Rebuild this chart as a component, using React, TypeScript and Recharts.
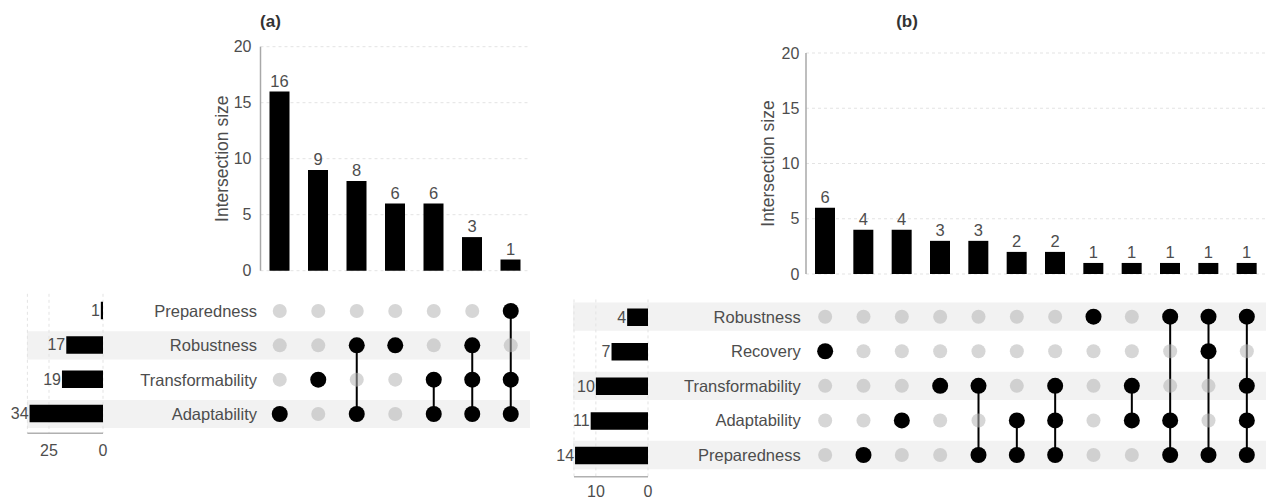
import {
  BarChart,
  Bar,
  XAxis,
  YAxis,
  CartesianGrid,
  LabelList,
  ComposedChart,
  Scatter,
  ReferenceArea,
} from "recharts";

// panel (a)
const setsA = ["Preparedness", "Robustness", "Transformability", "Adaptability"];
const setSizesA = [1, 17, 19, 34];
const sizesA = [16, 9, 8, 6, 6, 3, 1];
const membersA = [
  ["Adaptability"],
  ["Transformability"],
  ["Robustness", "Adaptability"],
  ["Robustness"],
  ["Transformability", "Adaptability"],
  ["Robustness", "Transformability", "Adaptability"],
  ["Preparedness", "Transformability", "Adaptability"],
];

// panel (b)
const setsB = ["Robustness", "Recovery", "Transformability", "Adaptability", "Preparedness"];
const setSizesB = [4, 7, 10, 11, 14];
const sizesB = [6, 4, 4, 3, 3, 2, 2, 1, 1, 1, 1, 1];
const membersB = [
  ["Recovery"],
  ["Preparedness"],
  ["Adaptability"],
  ["Transformability"],
  ["Transformability", "Preparedness"],
  ["Adaptability", "Preparedness"],
  ["Transformability", "Adaptability", "Preparedness"],
  ["Robustness"],
  ["Transformability", "Adaptability"],
  ["Robustness", "Adaptability", "Preparedness"],
  ["Robustness", "Recovery", "Preparedness"],
  ["Robustness", "Transformability", "Adaptability", "Preparedness"],
];

const intersectionTicks = [0, 5, 10, 15, 20];

const TEXT = "#4d4d4d";
const GRID = "#e3e3e3";
const BAND = "#f2f2f2";

const blackDot = (p: any) => <circle cx={p.cx} cy={p.cy} r={8} fill="#000" />;
const grayDot = (p: any) => <circle cx={p.cx} cy={p.cy} r={7} fill="#b4b4b4" fillOpacity={0.55} />;

const leftLabel = (props: any) => {
  const vb = props.viewBox ?? props;
  const x = Math.min(vb.x, vb.x + vb.width);
  const y = vb.y + vb.height / 2;
  return (
    <text x={x - 1} y={y} textAnchor="end" dominantBaseline="central" fill={TEXT} fontSize={16}>
      {props.value}
    </text>
  );
};

function UpSet({ sets, setSizes, sizes, members, L }: any) {
  const nCols = sizes.length;
  const nRows = sets.length;
  const barData = sizes.map((s: number, i: number) => ({ id: i + 1, size: s }));
  const setData = sets.map((name: string, i: number) => ({ name, size: setSizes[i] }));
  const rows = sets.map((_: string, i: number) => i + 1);
  const shaded = rows.filter((r: number) => (nRows - r) % 2 === 0);

  const columns = members.map((m: string[], c: number) =>
    sets
      .map((s: string, r: number) => (m.includes(s) ? { x: c + 1, y: r + 1 } : null))
      .filter(Boolean)
  );
  const gray: { x: number; y: number }[] = [];
  members.forEach((m: string[], c: number) =>
    sets.forEach((s: string, r: number) => {
      if (!m.includes(s)) gray.push({ x: c + 1, y: r + 1 });
    })
  );

  const mx = L.matrix;
  const pxPerCol = (mx.width - mx.margin.left - mx.margin.right - mx.yAxisWidth) / nCols;
  const bandX1 = 0.5 - (mx.left + mx.margin.left + mx.yAxisWidth - mx.bandLeft) / pxPerCol;

  const t = L.top;
  const ss = L.setSize;

  return (
    <>
      <div
        style={{
          position: "absolute",
          left: L.title.x - 30,
          top: L.title.y - 11,
          width: 60,
          textAlign: "center",
          fontWeight: "bold",
          fontSize: 17,
          lineHeight: "22px",
          color: "#333",
        }}
      >
        {L.title.text}
      </div>

      <div style={{ position: "absolute", left: mx.left, top: mx.top }}>
        <ComposedChart width={mx.width} height={mx.height} margin={mx.margin}>
          {shaded.map((r: number) => (
            <ReferenceArea
              key={r}
              x1={bandX1}
              x2={nCols + 0.5}
              y1={r - 0.41}
              y2={r + 0.41}
              fill={BAND}
              fillOpacity={1}
              stroke="none"
              ifOverflow="visible"
            />
          ))}
          <XAxis type="number" dataKey="x" domain={[0.5, nCols + 0.5]} hide allowDataOverflow />
          <YAxis
            type="number"
            dataKey="y"
            domain={[0.5, nRows + 0.5]}
            reversed
            ticks={rows}
            interval={0}
            tickFormatter={(v: number) => sets[v - 1]}
            width={mx.yAxisWidth}
            axisLine={false}
            tickLine={false}
            tickSize={0}
            tickMargin={mx.tickMargin}
            tick={{ fill: TEXT, fontSize: 16.5 }}
            allowDataOverflow
          />
          {columns.map((pts: any[], c: number) => (
            <Scatter
              key={c}
              data={pts}
              fill="#000"
              line={{ stroke: "#000", strokeWidth: 2 }}
              lineType="joint"
              shape={blackDot}
              isAnimationActive={false}
            />
          ))}
          <Scatter data={gray} shape={grayDot} isAnimationActive={false} />
        </ComposedChart>
      </div>

      <div style={{ position: "absolute", left: ss.left, top: ss.top }}>
        <BarChart layout="vertical" width={ss.width} height={ss.height} data={setData} margin={ss.margin}>
          <CartesianGrid horizontal={false} strokeDasharray="3 3" stroke={GRID} />
          <XAxis
            type="number"
            domain={[0, ss.max]}
            reversed
            ticks={ss.ticks}
            interval={0}
            height={25}
            axisLine={{ stroke: "#b0b0b0", strokeWidth: 1.5 }}
            tickLine={false}
            tickSize={0}
            tickMargin={ss.tickMargin}
            tick={{ fill: TEXT, fontSize: 16 }}
            allowDataOverflow
          />
          <YAxis type="category" dataKey="name" hide padding={{ top: 0, bottom: ss.padBottom }} />
          <Bar dataKey="size" fill="#000" barSize={17.5} isAnimationActive={false}>
            <LabelList dataKey="size" content={leftLabel} />
          </Bar>
        </BarChart>
      </div>

      <div style={{ position: "absolute", left: t.left, top: t.top }}>
        <BarChart width={t.width} height={t.height} data={barData} margin={t.margin}>
          <CartesianGrid vertical={false} strokeDasharray="3 3" stroke={GRID} />
          <XAxis dataKey="id" hide />
          <YAxis
            domain={[0, 20]}
            ticks={intersectionTicks}
            interval={0}
            width={t.yAxisWidth}
            axisLine={{ stroke: "#a8a8a8", strokeWidth: 1.5 }}
            tickLine={false}
            tickSize={0}
            tickMargin={t.tickMargin}
            tick={{ fill: TEXT, fontSize: 16 }}
            label={{
              value: "Intersection size",
              angle: -90,
              position: "center",
              dx: t.labelDx,
              style: { fill: TEXT, fontSize: 17.5, textAnchor: "middle" },
            }}
          />
          <Bar dataKey="size" fill="#000" barSize={20} isAnimationActive={false}>
            <LabelList dataKey="size" position="top" offset={5} fill={TEXT} fontSize={16.5} />
          </Bar>
        </BarChart>
      </div>
    </>
  );
}

const layoutA = {
  title: { text: "(a)", x: 270.5, y: 22 },
  top: {
    left: 180, top: 0, width: 360, height: 290,
    margin: { top: 46.7, right: 10, bottom: 19.3, left: 0 },
    yAxisWidth: 80.5, tickMargin: 9, labelDx: 1.5,
  },
  matrix: {
    left: 0, top: 280, width: 540, height: 180,
    margin: { top: 13.8, right: 10, bottom: 28.8, left: 0 },
    yAxisWidth: 260.5, tickMargin: 3.5, bandLeft: 27,
  },
  setSize: {
    left: 0, top: 280, width: 110, height: 180,
    margin: { top: 13.8, right: 7, bottom: 1.7, left: 27.4 },
    max: 35, ticks: [0, 25], tickMargin: 11, padBottom: 2.1,
  },
};

const layoutB = {
  title: { text: "(b)", x: 907, y: 22 },
  top: {
    left: 700, top: 0, width: 566, height: 290,
    margin: { top: 53, right: 0, bottom: 16, left: 0 },
    yAxisWidth: 106, tickMargin: 6.7, labelDx: 15,
  },
  matrix: {
    left: 560, top: 290, width: 706, height: 212,
    margin: { top: 9.4, right: 0, bottom: 29.7, left: 0 },
    yAxisWidth: 246, tickMargin: 5.3, bandLeft: 573,
  },
  setSize: {
    left: 530, top: 290, width: 130, height: 212,
    margin: { top: 9.4, right: 12, bottom: 0.3, left: 44 },
    max: 14.2, ticks: [0, 10], tickMargin: 9, padBottom: 4.4,
  },
};

export default function App() {
  return (
    <div
      style={{
        position: "absolute",
        left: 0,
        top: 0,
        width: 1266,
        height: 502,
        background: "#fff",
        overflow: "hidden",
        fontFamily: "'Liberation Sans', Arial, sans-serif",
      }}
    >
      <UpSet sets={setsA} setSizes={setSizesA} sizes={sizesA} members={membersA} L={layoutA} />
      <UpSet sets={setsB} setSizes={setSizesB} sizes={sizesB} members={membersB} L={layoutB} />
    </div>
  );
}
